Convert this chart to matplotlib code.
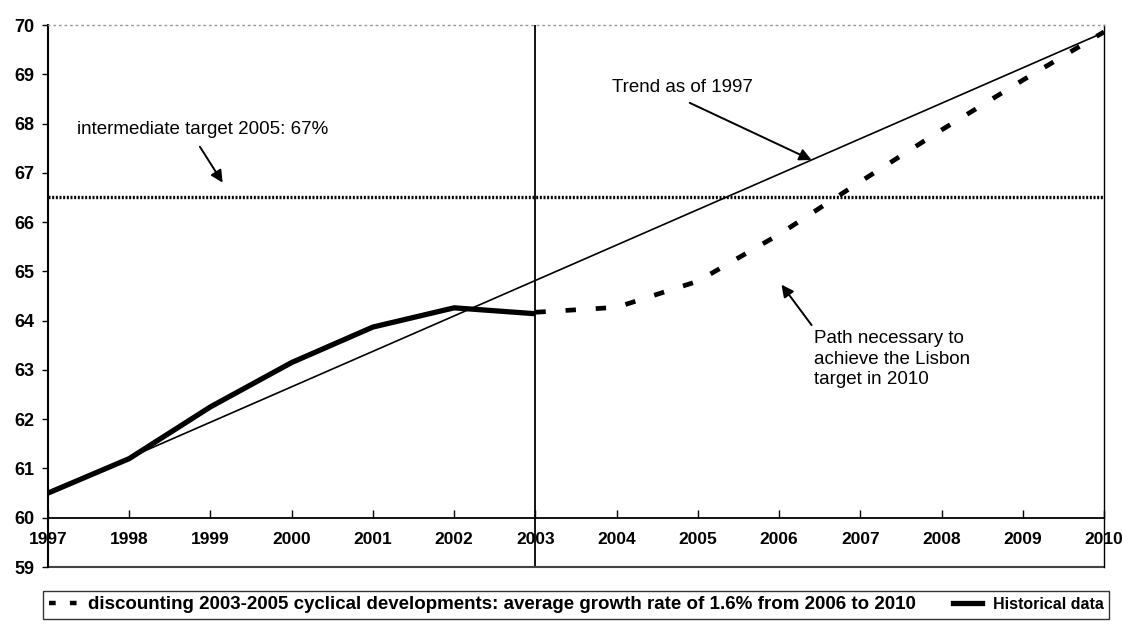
import matplotlib
matplotlib.use("Agg")
import matplotlib.pyplot as plt
from matplotlib.lines import Line2D

plt.rcParams['font.family'] = ['Liberation Sans', 'DejaVu Sans']

# data
years = list(range(1997, 2011))
hist_years = [1997, 1998, 1999, 2000, 2001, 2002, 2003]
hist = [60.5, 61.2, 62.25, 63.15, 63.87, 64.26, 64.14]
path_years = [2003, 2004, 2005, 2006, 2007, 2008, 2009, 2010]
path = [64.17, 64.27, 64.8, 65.75, 66.82, 67.87, 68.88, 69.86]
trend_years = [1997, 2010]
trend = [60.5, 69.85]
target_2005 = 66.5
yticks = list(range(59, 71))

fig = plt.figure(figsize=(11.22, 6.26), dpi=100)
ax = fig.add_axes([48/1122, 1 - 567/626, (1104 - 48)/1122, (567 - 25)/626])
ax.set_xlim(1997, 2010)
ax.set_ylim(59, 70)

ax.plot(trend_years, trend, color='black', lw=1.2)
ax.plot(hist_years, hist, color='black', lw=3.8, solid_capstyle='butt')
ax.plot(path_years, path, color='black', lw=3.4, dashes=(2.2, 4.2))
ax.axhline(target_2005, color='black', lw=2.4, dashes=(0.6, 0.5))
ax.axvline(2003, color='black', lw=1.3)
ax.axhline(59, color='#444444', lw=1.5, clip_on=False)

# axes look
ax.spines['bottom'].set_position(('data', 60))
ax.spines['bottom'].set_linewidth(1.3)
ax.spines['left'].set_linewidth(1.5)
ax.spines['right'].set_linewidth(1.0)
ax.spines['top'].set_color('#999999')
ax.spines['top'].set_linestyle((0, (1, 3)))
ax.spines['top'].set_linewidth(1.0)

ax.set_xticks(years)
ax.set_xticklabels([str(y) for y in years])
ax.set_yticks(yticks)
ax.tick_params(axis='x', direction='in', length=6, width=1, pad=10,
               labelsize=12.5)
ax.tick_params(axis='y', direction='out', length=4, width=1, pad=6,
               labelsize=13)
for lab in ax.get_xticklabels() + ax.get_yticklabels():
    lab.set_fontweight('bold')

arrow = dict(arrowstyle='-|>', color='black', lw=1.4, mutation_scale=18,
             shrinkA=0, shrinkB=0)
ax.text(1997.36, 67.87, 'intermediate target 2005: 67%', fontsize=13.5,
        va='center', ha='left')
ax.annotate('', xy=(1999.15, 66.8), xytext=(1998.87, 67.53), arrowprops=arrow)
ax.text(2003.94, 68.74, 'Trend as of 1997', fontsize=13.5, va='center',
        ha='left')
ax.annotate('', xy=(2006.4, 67.26), xytext=(2004.9, 68.42), arrowprops=arrow)
ax.text(2006.43, 63.8, 'Path necessary to\nachieve the Lisbon\ntarget in 2010',
        fontsize=13.5, va='top', ha='left', linespacing=1.25)
ax.annotate('', xy=(2006.03, 64.73), xytext=(2006.4, 63.91), arrowprops=arrow)

handles = [Line2D([], [], color='black', lw=3.2, dashes=(1.5, 3.2)),
           Line2D([], [], color='black', lw=3.8)]
labels = ['discounting 2003-2005 cyclical developments: average growth rate of 1.6% from 2006 to 2010',
          'Historical data']
leg = fig.legend(handles, labels, loc='lower left',
                 bbox_to_anchor=(43/1122, 1 - 619/626), ncol=2,
                 frameon=True, fancybox=False, edgecolor='black',
                 handlelength=1.55, handletextpad=0.55, columnspacing=2.0,
                 borderpad=0.3, borderaxespad=0,
                 prop={'weight': 'bold', 'size': 13.5})
leg.get_texts()[1].set_fontsize(11.5)
leg.get_frame().set_linewidth(1.0)

fig.savefig('out.png', dpi=100)
